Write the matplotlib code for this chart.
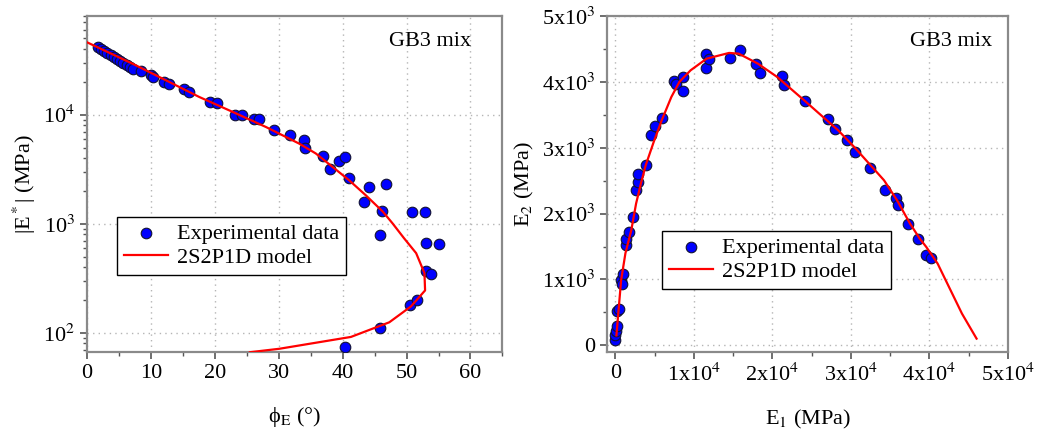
import numpy as np
import matplotlib
matplotlib.use('Agg')
import matplotlib.pyplot as plt
from matplotlib.ticker import FuncFormatter, MultipleLocator, LogLocator

plt.rcParams['font.family'] = ['Liberation Serif', 'DejaVu Serif']
plt.rcParams['mathtext.fontset'] = 'stix'
plt.rcParams['font.size'] = 16

# left panel: Black diagram (phase angle vs norm of complex modulus)
phi_exp = [1.7, 2.2, 2.7, 3.2, 3.7, 4.2, 4.7, 5.2, 5.7, 6.2, 6.7, 7.2,
           8.4, 10.0, 10.4, 12.0, 12.9, 15.2, 16.0, 19.2, 20.3, 23.1, 24.2,
           26.2, 26.9, 29.2, 31.7, 33.9, 34.1, 37.0, 38.0, 39.5, 40.4, 41.0,
           43.4, 44.1, 46.8, 46.1, 45.8, 50.8, 52.9, 53.0, 55.0, 53.0, 53.9,
           50.6, 51.6, 45.8, 40.3]
E_norm = [41500, 39800, 38200, 36700, 35200, 33600, 32200, 30800, 29600,
          28400, 27200, 26200, 25100, 22900, 22100, 19900, 19200, 17300,
          16100, 13100, 12900, 10000, 9860, 9060, 9060, 7200, 6470, 5830,
          5000, 4160, 3210, 3780, 4050, 2640, 1590, 2180, 2300, 1320, 791,
          1290, 1290, 664, 650, 371, 346, 182, 201, 111, 74]

phi_model = [0.0, 7.2, 12.4, 17.6, 22.8, 28.0, 33.2, 35.8, 38.4, 41.0, 43.6,
             46.3, 47.8, 49.6, 51.5, 52.8, 52.9, 50.7, 47.3, 41.3, 30.1, 25.5]
E_model = [46100, 29200, 20600, 14500, 10600, 7710, 5430, 4410, 3330, 2510,
           1830, 1290, 1010, 738, 538, 353, 245, 175, 125, 91.8, 71.5, 66.5]

# right panel: Cole-Cole plane
E1_exp = [0, 0, 80, 210, 210, 500, 760, 970, 840, 1390, 1390, 1810, 2320,
          2620, 2950, 2870, 3880, 4560, 5110, 5910, 7510, 7720, 8650, 8650,
          11520, 11600, 11900, 14640, 15910, 17930, 18440, 21180, 21480,
          24140, 27090, 27970, 29540, 30510, 32410, 34300, 35780, 35990,
          37220, 38480, 39540, 40210]
E2_exp = [76, 152, 220, 288, 521, 547, 987, 1078, 936, 1518, 1619, 1721,
          1948, 2353, 2480, 2596, 2733, 3188, 3325, 3451, 4008, 3963, 4074,
          3861, 4418, 4216, 4352, 4367, 4489, 4276, 4135, 4084, 3947, 3704,
          3431, 3279, 3122, 2935, 2692, 2353, 2242, 2126, 1837, 1619, 1377,
          1326]

E1_model = [150, 400, 750, 1300, 2041, 2653, 3265, 3878, 4898, 5918, 7143,
            8163, 9592, 11633, 14490, 15714, 18163, 20612, 24286, 28367,
            30408, 34215, 35868, 37521, 38760, 39587, 41033, 42479, 44132,
            45992]
E2_model = [150, 500, 990, 1400, 1747, 2152, 2456, 2734, 3089, 3418, 3772,
            4000, 4177, 4354, 4441, 4430, 4278, 4076, 3696, 3266, 3013, 2506,
            2203, 1848, 1620, 1494, 1241, 886, 481, 101]

spine_col = '#8a8a8a'
grid_kw = dict(color='#b5b5b5', linestyle=(0, (1, 3)), linewidth=1.0)


def style_axes(ax):
    for s in ax.spines.values():
        s.set_color(spine_col)
        s.set_linewidth(1.6)
    ax.tick_params(which='both', direction='out', color='#555555',
                   top=False, right=False, labelsize=16)
    ax.tick_params(which='major', length=5, width=1.2)
    ax.tick_params(which='minor', length=3, width=1.0)
    ax.grid(True, which='major', **grid_kw)
    ax.set_axisbelow(True)


fig = plt.figure(figsize=(10.6, 4.36), dpi=100)
ax1 = fig.add_axes([0.082, 0.193, 0.392, 0.770])
ax2 = fig.add_axes([0.573, 0.193, 0.378, 0.770])

# left
ax1.scatter(phi_exp, E_norm, s=58, c='#0000ff', edgecolors='#111133',
            linewidths=0.8, zorder=3, label='Experimental data')
ax1.plot(phi_model, E_model, color='#ff0000', lw=1.6, zorder=4,
         label='2S2P1D model')
ax1.set_yscale('log')
ax1.set_xlim(0, 65)
ax1.set_ylim(67, 80000)
ax1.xaxis.set_major_locator(MultipleLocator(10))
ax1.xaxis.set_minor_locator(MultipleLocator(5))
ax1.yaxis.set_major_locator(LogLocator(base=10, numticks=10))
ax1.yaxis.set_minor_locator(LogLocator(base=10, subs=np.arange(2, 10), numticks=20))
ax1.yaxis.set_minor_formatter(FuncFormatter(lambda v, p: ''))
ax1.yaxis.set_major_formatter(FuncFormatter(
    lambda v, p: '10$^{%d}$' % int(round(np.log10(v)))))
ax1.set_xlabel('ϕ$_{\\mathrm{E}}$ (°)', fontsize=16, labelpad=16)
ax1.set_ylabel(r'|E$^*$| (MPa)', fontsize=16, labelpad=4)
ax1.text(0.925, 0.925, 'GB3 mix', transform=ax1.transAxes, ha='right',
         va='center', fontsize=16)
style_axes(ax1)
leg1 = ax1.legend(loc='upper left', bbox_to_anchor=(0.072, 0.402),
                  borderaxespad=0, fancybox=False, framealpha=1,
                  edgecolor='black', fontsize=16, handlelength=2.0,
                  handletextpad=0.4, borderpad=0.3, labelspacing=0.15)
leg1.get_frame().set_linewidth(1.0)

# right
ax2.scatter(E1_exp, E2_exp, s=58, c='#0000ff', edgecolors='#111133',
            linewidths=0.8, zorder=3, label='Experimental data')
ax2.plot(E1_model, E2_model, color='#ff0000', lw=1.6, zorder=4,
         label='2S2P1D model')
ax2.set_xlim(-1000, 50000)
ax2.set_ylim(-100, 5000)
ax2.xaxis.set_major_locator(MultipleLocator(10000))
ax2.xaxis.set_minor_locator(MultipleLocator(5000))
ax2.yaxis.set_major_locator(MultipleLocator(1000))
ax2.yaxis.set_minor_locator(MultipleLocator(500))


def sci_fmt(v, p):
    if abs(v) < 1e-9:
        return '0'
    e = int(np.floor(np.log10(abs(v))))
    m = int(round(v / 10 ** e))
    return '%dx10$^{%d}$' % (m, e)


ax2.xaxis.set_major_formatter(FuncFormatter(sci_fmt))
ax2.yaxis.set_major_formatter(FuncFormatter(sci_fmt))
ax2.set_xlabel(r'E$_1$ (MPa)', fontsize=16, labelpad=16)
ax2.set_ylabel(r'E$_2$ (MPa)', fontsize=16, labelpad=4)
ax2.text(0.96, 0.925, 'GB3 mix', transform=ax2.transAxes, ha='right',
         va='center', fontsize=16)
style_axes(ax2)
leg2 = ax2.legend(loc='upper left', bbox_to_anchor=(0.137, 0.36),
                  borderaxespad=0, fancybox=False, framealpha=1,
                  edgecolor='black', fontsize=16, handlelength=2.0,
                  handletextpad=0.4, borderpad=0.3, labelspacing=0.15)
leg2.get_frame().set_linewidth(1.0)

fig.savefig('out.png', dpi=100)
